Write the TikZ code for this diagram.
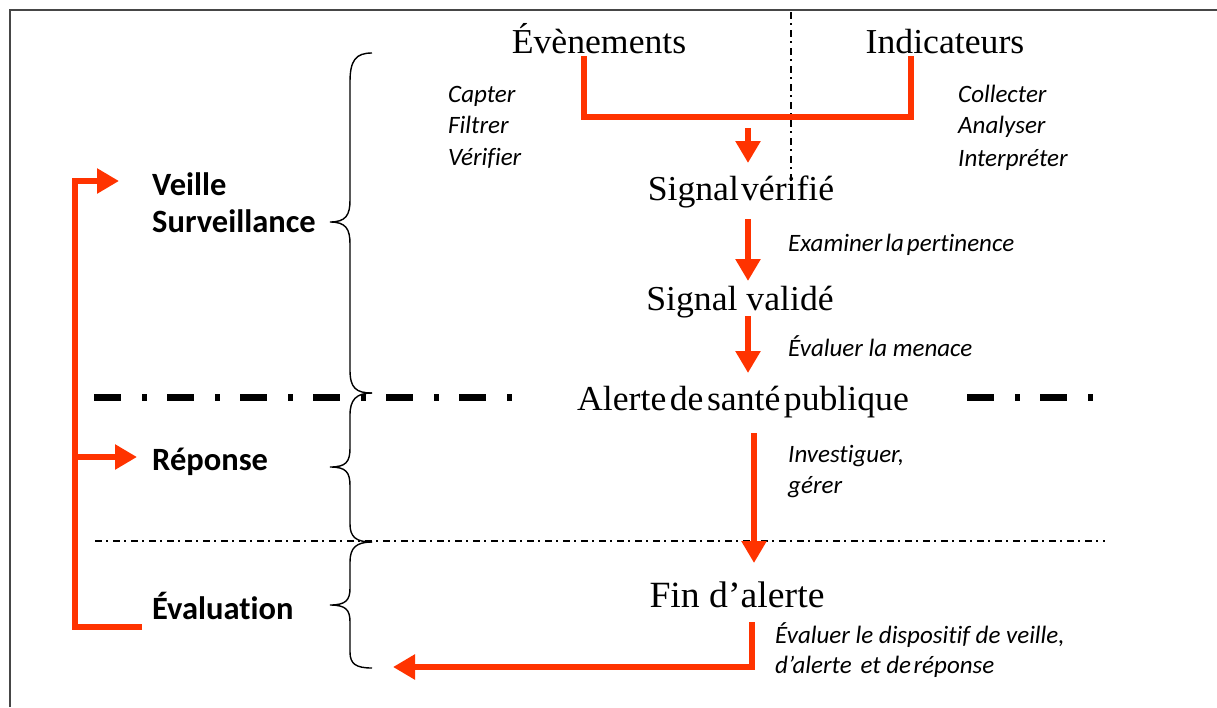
\documentclass[tikz,border=0pt]{standalone}
\usepackage{fontspec}
\usetikzlibrary{arrows.meta}
\newfontfamily\serifbig{Liberation Serif}[FakeStretch=1.02]
\newfontfamily\lab{Carlito}[Ligatures={NoCommon}]
\definecolor{ora}{RGB}{255,51,0}
\definecolor{frame}{RGB}{70,70,70}
\begin{document}
\begin{tikzpicture}[x=1pt,y=-1pt,
  big/.style={inner sep=0,anchor=base,font=\serifbig\fontsize{35}{39}\selectfont},
  ital/.style={inner sep=0,anchor=base west,font=\lab\itshape\fontsize{25}{28}\selectfont},
  bold/.style={inner sep=0,anchor=base west,font=\lab\bfseries\fontsize{32.5}{36}\selectfont},
  oline/.style={draw=ora,line width=6.5pt},
  oarrow/.style={draw=ora,line width=6.5pt,-{Triangle[width=24pt,length=22pt]}},
  brace/.style={draw=black,line width=1.4pt},
  thickdash/.style={draw=black,line width=7pt,dash pattern=on 27pt off 21pt on 5pt off 20pt},
  thindash/.style={draw=black,line width=1.3pt,dash pattern=on 7pt off 4pt on 2pt off 5pt}]
\useasboundingbox (0,0) rectangle (1217,707);
% frame
\draw[frame,line width=1.6pt] (10,707) -- (10,10) -- (1217,10);
% separators
\draw[thindash] (791,12) -- (791,202);
\draw[thickdash] (94,397) -- (512,397);
\draw[thickdash] (967,397) -- (1100,397);
\draw[thindash] (95,541) -- (1105,541);
% central texts
\node[big] (ev) at (599,53) {Évènements};
\node[big] (ind) at (945,53) {Indicateurs};
\node[big] (sv) at (741,200) {Signal\hspace{0.06em}vérifié};
\node[big] (sval) at (740,310) {Signal validé};
\node[big] (asp) at (743,410) {\spaceskip=0.1em\relax Alerte de santé publique};
\node[big,font=\serifbig\fontsize{37}{41}\selectfont] (fin) at (737,607) {Fin d’alerte};
% italic labels
\node[ital] (cap) at (448,102) {Capter};
\node[ital] (fil) at (448,133) {Filtrer};
\node[ital] (ver) at (448,165) {Vérifier};
\node[ital] (col) at (958,102) {Collecter};
\node[ital] (ana) at (958,133) {Analyser};
\node[ital] (int) at (958,166) {Interpréter};
\node[ital] (exa) at (788,251) {\spaceskip=0.12em\relax Examiner la pertinence};
\node[ital] (evm) at (788,356) {Évaluer la menace};
\node[ital] (inv) at (788,462) {Investiguer,};
\node[ital] (ger) at (788,493) {gérer};
\node[ital] (evd1) at (775,643) {Évaluer le dispositif de veille,};
\node[ital] (evd2) at (775,673) {d’alerte\hspace{0.35em}et de\hspace{0.1em}réponse};
% bold labels
\node[bold] (vei) at (152,195) {Veille};
\node[bold] (sur) at (152,232) {Surveillance};
\node[bold] (rep) at (152,470) {Réponse};
\node[bold] (eva) at (152,619) {Évaluation};
% orange connectors
\coordinate (e1) at (584,56);
\coordinate (i1) at (911,56);
\draw[oline] (e1) -- (584,117) -- (911,117) -- (i1);
\coordinate (a1s) at (748,128);
\coordinate (a1e) at (748,163);
\draw[oarrow] (a1s) -- (a1e);
\coordinate (a2s) at (748,219);
\coordinate (a2e) at (748,281);
\draw[oarrow] (a2s) -- (a2e);
\coordinate (a3s) at (748,316);
\coordinate (a3e) at (748,373);
\draw[oarrow] (a3s) -- (a3e);
\coordinate (a4s) at (754,433);
\coordinate (a4e) at (754,563);
\draw[oarrow] (a4s) -- (a4e);
\coordinate (b1) at (752,622);
\coordinate (b2) at (393,667);
\draw[oarrow] (b1) -- (752,667) -- (b2);
% left loop
\coordinate (l0) at (142,627);
\coordinate (lv) at (119,181);
\coordinate (lr) at (137,457);
\draw[oline] (l0) -- (75,627) -- (75,181) -- (100,181);
\draw[oarrow] (96,181) -- (lv);
\draw[oarrow] (75,457) -- (lr);
% braces
\draw[brace] (372,53) .. controls (356,53) and (350,60) .. (350,82) -- (350,200)
  .. controls (350,215) and (346,222) .. (330,222)
  .. controls (346,222) and (350,229) .. (350,244) -- (350,370)
  .. controls (350,388) and (356,393) .. (372,393);
\draw[brace] (372,393) .. controls (356,393) and (350,400) .. (350,415) -- (350,448)
  .. controls (350,462) and (346,467) .. (330,467)
  .. controls (346,467) and (350,472) .. (350,486) -- (350,524)
  .. controls (350,537) and (356,542) .. (372,542);
\draw[brace] (372,542) .. controls (356,542) and (350,548) .. (350,562) -- (350,588)
  .. controls (350,600) and (346,605) .. (330,605)
  .. controls (346,605) and (350,610) .. (350,622) -- (350,652)
  .. controls (350,664) and (356,668) .. (372,668);
\end{tikzpicture}
\end{document}
